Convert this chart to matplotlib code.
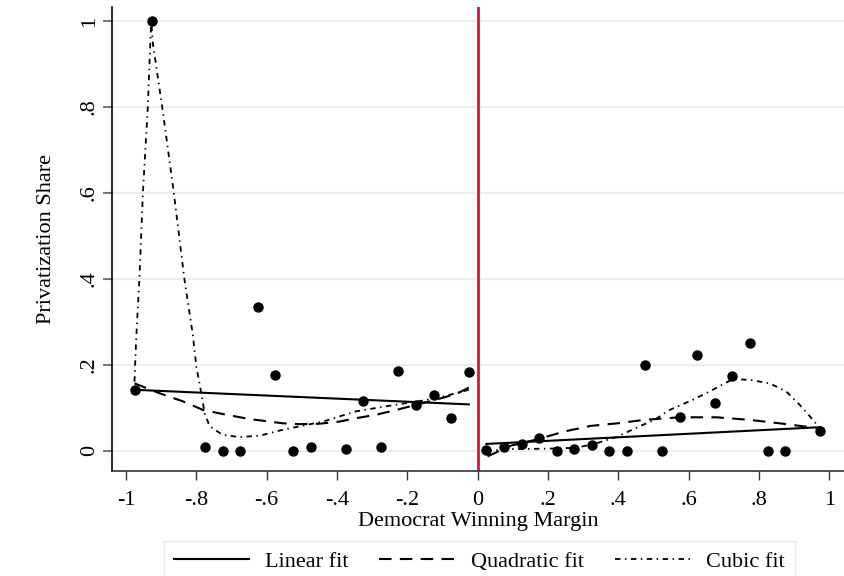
import matplotlib.pyplot as plt

plt.rcParams['font.family'] = ['Liberation Serif', 'DejaVu Serif']

# binned means, left and right of the cutoff
bins_left_x = [-0.975, -0.925, -0.775, -0.725, -0.675, -0.625, -0.575, -0.525, -0.475,
               -0.375, -0.325, -0.275, -0.225, -0.175, -0.125, -0.075, -0.025]
bins_left_y = [0.142, 1.0, 0.010, 0.0, 0.0, 0.334, 0.176, 0.0, 0.010,
               0.005, 0.116, 0.010, 0.186, 0.107, 0.129, 0.076, 0.184]
bins_right_x = [0.025, 0.075, 0.125, 0.175, 0.225, 0.275, 0.325, 0.375, 0.425, 0.475,
                0.525, 0.575, 0.625, 0.675, 0.725, 0.775, 0.825, 0.875, 0.975]
bins_right_y = [0.002, 0.010, 0.016, 0.029, 0.0, 0.005, 0.013, 0.0, 0.0, 0.200,
                0.0, 0.078, 0.222, 0.112, 0.173, 0.250, 0.0, 0.0, 0.045]

# fitted values
lin_left_x = [-0.975, -0.025]
lin_left_y = [0.142, 0.108]
lin_right_x = [0.025, 0.975]
lin_right_y = [0.016, 0.055]

quad_left_x = [-0.976, -0.905, -0.838, -0.781, -0.715, -0.649, -0.554, -0.506, -0.45,
               -0.393, -0.345, -0.288, -0.222, -0.137, -0.061, -0.025]
quad_left_y = [0.157, 0.134, 0.115, 0.095, 0.084, 0.074, 0.064, 0.062, 0.063,
               0.068, 0.076, 0.084, 0.097, 0.115, 0.132, 0.147]
quad_right_x = [0.028, 0.095, 0.171, 0.247, 0.322, 0.398, 0.474, 0.575, 0.679,
                0.774, 0.869, 0.964, 0.975]
quad_right_y = [-0.013, 0.012, 0.027, 0.045, 0.058, 0.064, 0.072, 0.078, 0.078,
                0.072, 0.063, 0.053, 0.050]

cub_left_x = [-0.976, -0.971, -0.962, -0.952, -0.938, -0.931, -0.928, -0.924, -0.897,
              -0.864, -0.834, -0.81, -0.80, -0.791, -0.781, -0.777, -0.762, -0.725,
              -0.677, -0.62, -0.554, -0.44, -0.345, -0.25, -0.155, -0.099, -0.025]
cub_left_y = [0.161, 0.262, 0.400, 0.600, 0.800, 0.950, 1.0, 0.950, 0.800,
              0.600, 0.400, 0.270, 0.196, 0.157, 0.111, 0.088, 0.057, 0.037,
              0.032, 0.035, 0.049, 0.068, 0.092, 0.105, 0.117, 0.126, 0.142]
cub_right_x = [0.025, 0.10, 0.20, 0.28, 0.332, 0.398, 0.455, 0.503, 0.546, 0.613,
               0.669, 0.726, 0.774, 0.831, 0.878, 0.916, 0.954, 0.975]
cub_right_y = [0.0, 0.004, 0.005, 0.007, 0.016, 0.033, 0.055, 0.072, 0.095, 0.119,
               0.142, 0.167, 0.165, 0.157, 0.138, 0.107, 0.072, 0.050]

x_ticks = [-1, -0.8, -0.6, -0.4, -0.2, 0, 0.2, 0.4, 0.6, 0.8, 1]
x_labels = ['-1', '-.8', '-.6', '-.4', '-.2', '0', '.2', '.4', '.6', '.8', '1']
y_ticks = [0, 0.2, 0.4, 0.6, 0.8, 1]
y_labels = ['0', '.2', '.4', '.6', '.8', '1']

fig = plt.figure(figsize=(8.45, 5.76), dpi=100)
ax = fig.add_axes([0.1325, 0.1823, 0.8675, 0.8056])

for y in y_ticks:
    ax.axhline(y, color='#e8f0f2', lw=1.6, zorder=0)

ax.axvline(0, color='#d5143c', lw=2, zorder=1)

lw = 1.5
ax.plot(lin_left_x, lin_left_y, color='black', lw=lw, label='Linear fit')
ax.plot(lin_right_x, lin_right_y, color='black', lw=lw)
ax.plot(quad_left_x, quad_left_y, color='black', lw=lw, dashes=(6, 4), label='Quadratic fit')
ax.plot(quad_right_x, quad_right_y, color='black', lw=lw, dashes=(6, 4))
ax.plot(cub_left_x, cub_left_y, color='black', lw=1.3, dashes=(3, 2.5, 0.8, 2.5),
        label='Cubic fit')
ax.plot(cub_right_x, cub_right_y, color='black', lw=1.3, dashes=(3, 2.5, 0.8, 2.5))

ax.plot(bins_left_x, bins_left_y, 'o', color='black', ms=6.5, zorder=5)
ax.plot(bins_right_x, bins_right_y, 'o', color='black', ms=6.5, zorder=5)

ax.set_xlim(-1.04, 1.045)
ax.set_ylim(-0.047, 1.033)
ax.set_xticks(x_ticks)
ax.set_xticklabels(x_labels, fontsize=16)
ax.set_yticks(y_ticks)
ax.set_yticklabels(y_labels, fontsize=16, rotation=90, va='center')
ax.tick_params(axis='x', direction='out', length=6.5, width=1, color='#333333', pad=8)
ax.tick_params(axis='y', direction='out', length=6.5, width=1.5, color='#777777', pad=3)

for side in ['top', 'right']:
    ax.spines[side].set_visible(False)
ax.spines['left'].set_linewidth(1.2)
ax.spines['bottom'].set_linewidth(1.2)
ax.spines['bottom'].set_color('#333333')

ax.set_xlabel('Democrat Winning Margin', fontsize=16, labelpad=1)
ax.set_ylabel('Privatization Share', fontsize=16, labelpad=17)

leg = fig.legend(loc='upper center', bbox_to_anchor=(0.567, 1 - 541 / 576), ncol=3,
                 fontsize=16, frameon=True, fancybox=False, edgecolor='#e3e3e3',
                 handlelength=3.4, handletextpad=0.7, columnspacing=1.4,
                 borderpad=0.45, borderaxespad=0)
leg.get_frame().set_linewidth(1)

fig.savefig('out.png', dpi=100)
